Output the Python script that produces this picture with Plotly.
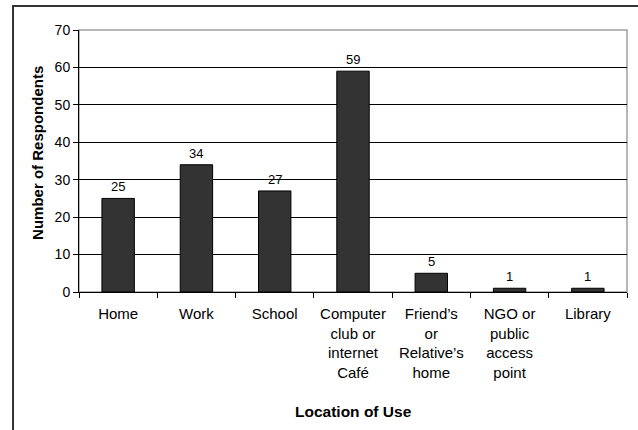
import plotly.graph_objects as go

categories = ["Home", "Work", "School", "Computer<br>club or<br>internet<br>Café",
              "Friend’s<br>or<br>Relative’s<br>home", "NGO or<br>public<br>access<br>point", "Library"]
values = [25, 34, 27, 59, 5, 1, 1]
y_ticks = [0, 10, 20, 30, 40, 50, 60, 70]

FONT = "Liberation Sans, Arial, sans-serif"

fig = go.Figure()
fig.add_trace(go.Bar(
    x=categories, y=values,
    marker=dict(color="#333333", line=dict(color="#000000", width=1)),
    width=0.414,
))

# data labels
for c, v in zip(categories, values):
    fig.add_annotation(x=c, y=v, text=str(v), showarrow=False, yanchor="bottom",
                       yshift=2, font=dict(family=FONT, size=13, color="black"))

# plot area border (gray top/right)
fig.add_shape(type="rect", xref="paper", yref="paper", x0=0, x1=1, y0=0, y1=1,
              line=dict(color="#A0A0A0", width=1.5), layer="below")
# outer chart frame (extends beyond the image at right and bottom)
fig.add_shape(type="rect", xref="paper", yref="paper", x0=-0.1204, x1=1.2, y0=-0.8, y1=1.0916,
              line=dict(color="#333333", width=2))

fig.add_annotation(text="<b>Location of Use</b>", xref="paper", yref="paper",
                   x=0.5, y=-0.458, xanchor="center", yanchor="middle", showarrow=False,
                   font=dict(family=FONT, size=15.5, color="black"))
fig.add_annotation(text="<b>Number of Respondents</b>", xref="paper", yref="paper",
                   x=-0.077, y=0.53, xanchor="center", yanchor="middle",
                   showarrow=False, textangle=-90,
                   font=dict(family=FONT, size=15, color="black"))

fig.update_layout(
    width=638, height=430,
    margin=dict(l=79, r=11, t=30, b=138),
    paper_bgcolor="white", plot_bgcolor="white",
    showlegend=False,
    font=dict(family=FONT, color="black"),
    xaxis=dict(
        type="category", tickson="boundaries", ticks="outside", ticklen=5,
        tickcolor="black", showline=True, linecolor="black", linewidth=1,
        showgrid=False, tickfont=dict(size=15, family=FONT), tickangle=0,
        ticklabelstandoff=8,
    ),
    yaxis=dict(
        range=[0, 70], tickvals=y_ticks, ticks="outside", ticklen=5,
        tickcolor="black", showline=True, linecolor="black", linewidth=1,
        showgrid=True, gridcolor="black", gridwidth=1, zeroline=False,
        tickfont=dict(size=14, family=FONT),
    ),
)

fig.write_html("out.html", config={"displayModeBar": False},
               post_script="document.body.style.margin='0';document.body.style.overflow='hidden';")
